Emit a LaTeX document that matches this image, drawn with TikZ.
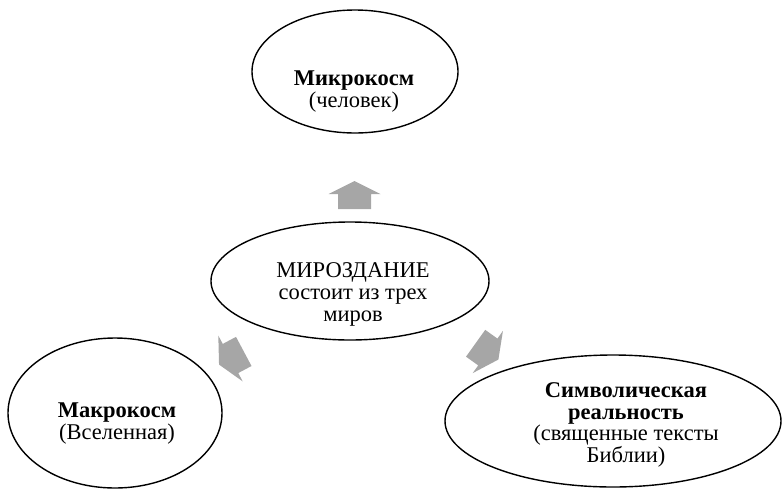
\documentclass[tikz,border=0pt]{standalone}
\usepackage{fontspec}
\setmainfont{Liberation Serif}
\usetikzlibrary{shapes.geometric}
\definecolor{arrowgray}{RGB}{166,166,166}
\tikzset{
  oval/.style={draw=black, line width=1.4pt, ellipse, inner sep=0pt},
  txt/.style={anchor=base, inner sep=0pt, font=\fontsize{22.5}{22}\selectfont},
  btxt/.style={txt, font=\fontsize{22.5}{22}\selectfont\bfseries},
  blockarrow/.style={fill=arrowgray, draw=none}
}
\newcommand{\blockarrowpath}{(0,-14) -- (26,-1) -- (16.5,-1) -- (16.5,14) -- (-16.5,14) -- (-16.5,-1) -- (-26,-1) -- cycle}
\begin{document}
\begin{tikzpicture}[x=1pt, y=-1pt]
\useasboundingbox (0,0) rectangle (782,496);
% ellipses
\node[oval, minimum width=206pt, minimum height=123pt] (micro) at (355,71.5) {};
\node[oval, minimum width=278pt, minimum height=118pt] (center) at (350,281) {};
\node[oval, minimum width=214pt, minimum height=150pt] (macro) at (115,413) {};
\node[oval, minimum width=336pt, minimum height=132pt] (symb) at (613,421) {};
% texts
\node[btxt] (microA) at (354,85) {Микрокосм};
\node[txt] (microB) at (354,107) {(человек)};
\node[txt] (centerA) at (353,277) {МИРОЗДАНИЕ};
\node[txt] (centerB) at (353,299) {состоит из трех};
\node[txt] (centerC) at (353,321) {миров};
\node[btxt] (macroA) at (117,417) {Макрокосм};
\node[txt] (macroB) at (117,439) {(Вселенная)};
\node[btxt] (symbA) at (626,397) {Символическая};
\node[btxt] (symbB) at (626,419) {реальность};
\node[txt] (symbC) at (626,440) {(священные тексты};
\node[txt] (symbD) at (626,462) {Библии)};
% block arrows
\begin{scope}[shift={(354.5,195)}]
  \fill[blockarrow] \blockarrowpath;
\end{scope}
\begin{scope}[shift={(231.4,358)}, rotate=118]
  \fill[blockarrow] \blockarrowpath;
\end{scope}
\begin{scope}[shift={(487,351.4)}, rotate=-125.6]
  \fill[blockarrow] \blockarrowpath;
\end{scope}
\end{tikzpicture}
\end{document}
